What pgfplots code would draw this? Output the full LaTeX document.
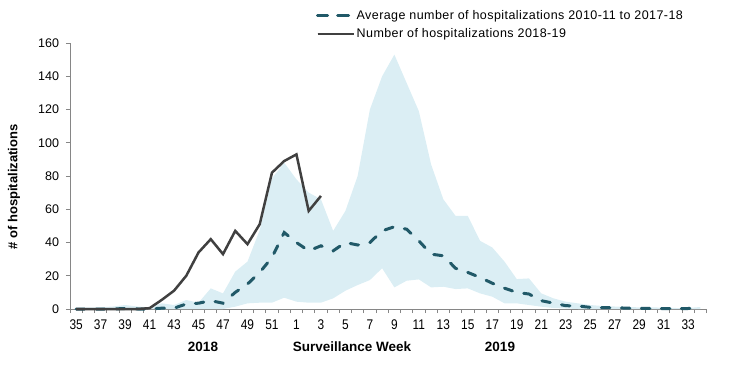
\documentclass[border=0pt]{standalone}
\usepackage{pgfplots}
\usepackage{pgfplotstable}
\pgfplotsset{compat=1.18}
\usepgfplotslibrary{fillbetween}
\usepackage{fontspec}
\setmainfont{Liberation Sans}
\newfontfamily\legfont[LetterSpace=3.4]{Liberation Sans}
\definecolor{bandc}{HTML}{DBEEF4}
\definecolor{avgc}{HTML}{215968}
\definecolor{curc}{HTML}{404040}
\definecolor{axc}{HTML}{868686}
\pgfplotstableread{
i up lo avg
0 0.5 0 0
1 1 0 0
2 1 0 0
3 1.5 0 0
4 2.4 0 0.3
5 1.5 0 0
6 1 0 0
7 3.4 0 0.5
8 2.4 0 0.5
9 5.4 0 3
10 3.8 0 3.5
11 12.4 0 5
12 9.4 0 3.5
13 22.5 1.4 10
14 28.5 3.4 15
15 47.5 3.8 22
16 78.6 3.8 31
17 88 6.8 46
18 78 4.4 40
19 70 3.8 35
20 66 3.8 38
21 47 6.4 35
22 59 11 40
23 80 14.4 38.5
24 120 17.4 40
25 140 24.5 47
26 153 13 49.5
27 136 17 48
28 119 17.8 41
29 87 13 33
30 66 13.4 32
31 56 12 24.5
32 56 12.4 22
33 41 9.4 19
34 37 7.4 15.5
35 28.5 3.4 12.5
36 18 3.4 10
37 18.4 2.4 9
38 9.4 1.4 5
39 6.4 0.6 3.5
40 4.4 0.3 2
41 3.4 0 1.8
42 2.4 0 1
43 1.8 0 0.8
44 1.5 0 0.8
45 1.2 0 0.5
46 1 0 0.4
47 1 0 0.3
48 0.8 0 0.3
49 0.6 0 0.3
50 0.6 0 0.3
51 1.2 0 1
}\bandtable
\pgfplotstableread{
i cur
0 0
1 0
2 0
3 0
4 0
5 0
6 0.5
7 5.5
8 11
9 20
10 34
11 42
12 33
13 47
14 39
15 51
16 82
17 89
18 93
19 59
20 68
}\curtable
\begin{document}
\begin{tikzpicture}
\begin{axis}[
  at={(70pt,56pt)}, anchor=south west, scale only axis,
  width=636.5pt, height=266pt,
  xmin=-0.5, xmax=51.5, ymin=0, ymax=160,
  axis x line*=bottom, axis y line*=left,
  axis line style={axc, line width=0.8pt},
  clip=false,
  xtick={0,2,...,50},
  xticklabels={35,37,39,41,43,45,47,49,51,1,3,5,7,9,11,13,15,17,19,21,23,25,27,29,31,33},
  minor xtick={-0.5,0.5,...,51.5},
  ytick={0,20,...,160},
  tick align=outside,
  major x tick style={draw=none},
  minor x tick style={axc, line width=0.8pt},
  major y tick style={axc, line width=0.8pt},
  major tick length=4pt, minor tick length=4pt,
  /pgf/number format/assume math mode=true,
  yticklabel style={font=\fontsize{12.5}{14}\selectfont, xshift=-3.5pt},
  xticklabel style={font=\fontsize{14}{16}\selectfont, xscale=0.85, yshift=-3pt},
  legend style={at={(0.3865,1.1297)}, anchor=north west, draw=none, fill=none,
    font=\legfont\fontsize{12.5}{14}\selectfont, inner sep=0pt, row sep=5pt,
    nodes={inner sep=1.5pt}},
  legend cell align=left,
  legend image code/.code={\draw[#1] (0pt,0pt) -- (32pt,0pt); \path (0pt,0pt) -- (36pt,0pt);},
]
\addplot[name path=up, draw=none, forget plot] table[x=i,y=up]{\bandtable};
\addplot[name path=lo, draw=none, forget plot] table[x=i,y=lo]{\bandtable};
\addplot[bandc, forget plot] fill between[of=up and lo];
\addplot[avgc, line width=3pt, line cap=round, dash pattern=on 8.5pt off 11.5pt,
  legend image code/.code={\draw[avgc, line width=3pt, dash pattern=on 10pt off 11pt] (0pt,0pt) -- (32pt,0pt); \path (0pt,0pt) -- (36pt,0pt);}]
  table[x=i,y=avg]{\bandtable};
\addlegendentry{Average number of hospitalizations 2010-11 to 2017-18}
\addplot[curc, line width=2.5pt] table[x=i,y=cur]{\curtable};
\addlegendentry{Number of hospitalizations 2018-19}
\end{axis}
\node[rotate=90, font=\fontsize{13}{15}\selectfont\bfseries] at (14pt,178pt) {\# of hospitalizations};
\node[font=\fontsize{13.5}{15}\selectfont\bfseries] at (203pt,18pt) {2018};
\node[font=\fontsize{13.5}{15}\selectfont\bfseries] at (352pt,18pt) {Surveillance Week};
\node[font=\fontsize{13.5}{15}\selectfont\bfseries] at (500pt,18pt) {2019};
\path (0pt,0pt) rectangle (729pt,365pt);
\end{tikzpicture}
\end{document}
